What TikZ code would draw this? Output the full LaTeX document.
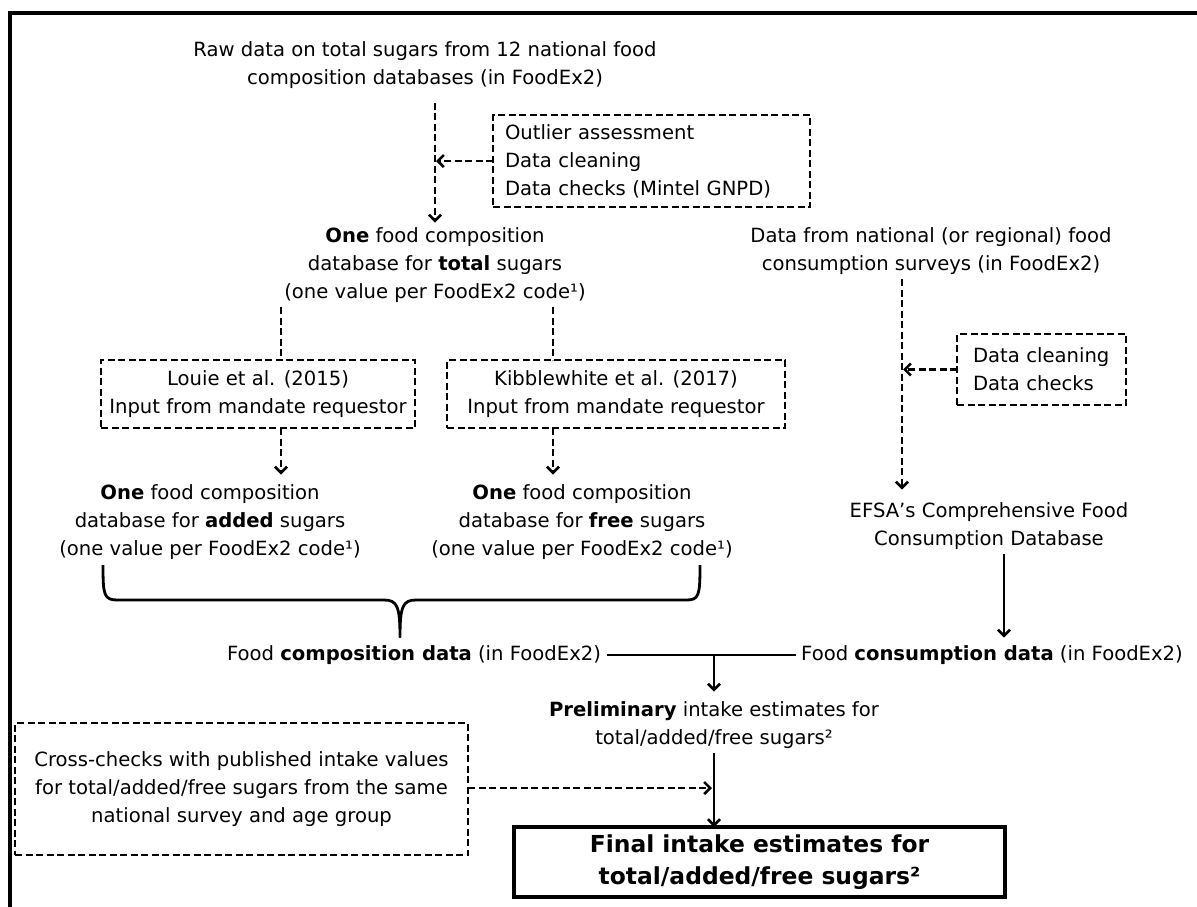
\documentclass[tikz,border=0pt]{standalone}
\usepackage{fontspec}
\setmainfont{DejaVu Sans}
\usetikzlibrary{arrows.meta,calc}
\begin{document}
\begin{tikzpicture}[x=1pt,y=-1pt,
  txt/.style={font=\fontsize{19.6}{28}\selectfont, align=center, inner xsep=0pt, inner ysep=5pt, outer sep=0pt},
  dbox/.style={draw, dash pattern=on 7pt off 3.5pt, line width=2.8pt, font=\fontsize{19.6}{28}\selectfont, inner sep=0pt, outer sep=0pt},
  dline/.style={line width=2.8pt, dash pattern=on 7pt off 3.5pt},
  darrow/.style={dline, -{Straight Barb[length=6pt,width=12pt,line width=2.6pt]}},
  sarrow/.style={line width=2.8pt, -{Straight Barb[length=6pt,width=12pt,line width=2.6pt]}},
  sline/.style={line width=2.8pt},
  finalbox/.style={draw, line width=3.4pt, font=\bfseries\fontsize{23.4}{32}\selectfont, align=center, inner sep=0pt, outer sep=0pt},
]
\useasboundingbox (0,0) rectangle (1197,906);
% outer frame (open to the right and bottom)
\draw[line width=4pt] (1205,13) -- (10,13) -- (10,915);

% composition branch
\node[txt] (raw) at (425,65.5) {Raw data on total sugars from 12 national food\\composition databases (in FoodEx2)};
\node[dbox, text width=293pt, align=left, inner xsep=12pt, minimum height=92pt] (check) at (651.5,161)
  {Outlier assessment\\Data cleaning\\Data checks (Mintel GNPD)};
\node[txt] (total) at (435,265) {\textbf{One} food composition\\database for \textbf{total} sugars\\(one value per FoodEx2 code¹)};
\node[dbox, align=center, minimum width=314pt, minimum height=68pt] (louie) at (258,394)
  {Louie et al. (2015)\\Input from mandate requestor};
\node[dbox, align=center, minimum width=338pt, minimum height=68pt] (kibble) at (616,394)
  {Kibblewhite et al. (2017)\\Input from mandate requestor};
\node[txt] (added) at (210,522) {\textbf{One} food composition\\database for \textbf{added} sugars\\(one value per FoodEx2 code¹)};
\node[txt] (free) at (582,522) {\textbf{One} food composition\\database for \textbf{free} sugars\\(one value per FoodEx2 code¹)};

% consumption branch
\node[txt] (consume) at (931,251) {Data from national (or regional) food\\consumption surveys (in FoodEx2)};
\node[dbox, text width=137pt, align=left, inner xsep=16pt, minimum height=71pt] (clean) at (1041.5,369.5)
  {Data cleaning\\Data checks};
\node[txt] (efsa) at (989,526) {EFSA’s Comprehensive Food\\Consumption Database};

% merging
\node[txt] (fcomp) at (414,655) {Food \textbf{composition data} (in FoodEx2)};
\node[txt] (fcons) at (992,655) {Food \textbf{consumption data} (in FoodEx2)};
\node[txt] (prelim) at (714,725) {\textbf{Preliminary} intake estimates for\\total/added/free sugars²};
\node[dbox, align=center, minimum width=453pt, minimum height=132pt] (cross) at (241.5,789)
  {Cross-checks with published intake values\\for total/added/free sugars from the same\\national survey and age group};
\node[finalbox, minimum width=491pt, minimum height=70pt] (final) at (759.5,862)
  {Final intake estimates for\\total/added/free sugars²};

% connectors, composition side
\draw[darrow, shorten <=9pt] (raw.south -| total.north) -- (total.north);
\draw[darrow, shorten >=1pt] (check.west) -- (check.west -| total.north);
\draw[dline] ([xshift=23pt]louie.north |- total.south) -- ([xshift=23pt]louie.north);
\draw[dline] ([xshift=-63pt]kibble.north |- total.south) -- ([xshift=-63pt]kibble.north);
\draw[darrow, shorten >=5pt] ([xshift=23pt]louie.south) -- ([xshift=23pt]louie.south |- added.north);
\draw[darrow, shorten >=5pt] ([xshift=-63pt]kibble.south) -- ([xshift=-63pt]kibble.south |- free.north);

% brace gathering the two composition databases
\draw[sline, line join=round]
  (103,565) .. controls (103,596) and (104,600) .. (118,600) -- (384,600)
  .. controls (397,600) and (400,606) .. (400,637)
  .. controls (400,606) and (403,600) .. (416,600) -- (686,600)
  .. controls (699,600) and (700,596) .. (700,565);

% connectors, consumption side
\coordinate (cv) at ([xshift=-29pt]consume.south);
\draw[darrow, shorten >=8pt] (cv) -- (cv |- efsa.north);
\draw[darrow, shorten >=1pt] (clean.west) -- (clean.west -| cv);
\draw[sarrow, shorten >=3pt] ([xshift=15pt]efsa.south) -- ([xshift=15pt]efsa.south |- fcons.north);

% merging connectors
\draw[sline, shorten <=6pt, shorten >=5pt] (fcomp.east) -- (fcons.west);
\draw[sarrow, shorten >=5pt] (prelim.north |- fcomp.east) -- (prelim.north);
\draw[darrow, shorten >=2pt] (cross.east |- 0,788) -- (prelim.south |- 0,788);
\draw[sarrow] (prelim.south) -- (prelim.south |- final.north);
\end{tikzpicture}
\end{document}
